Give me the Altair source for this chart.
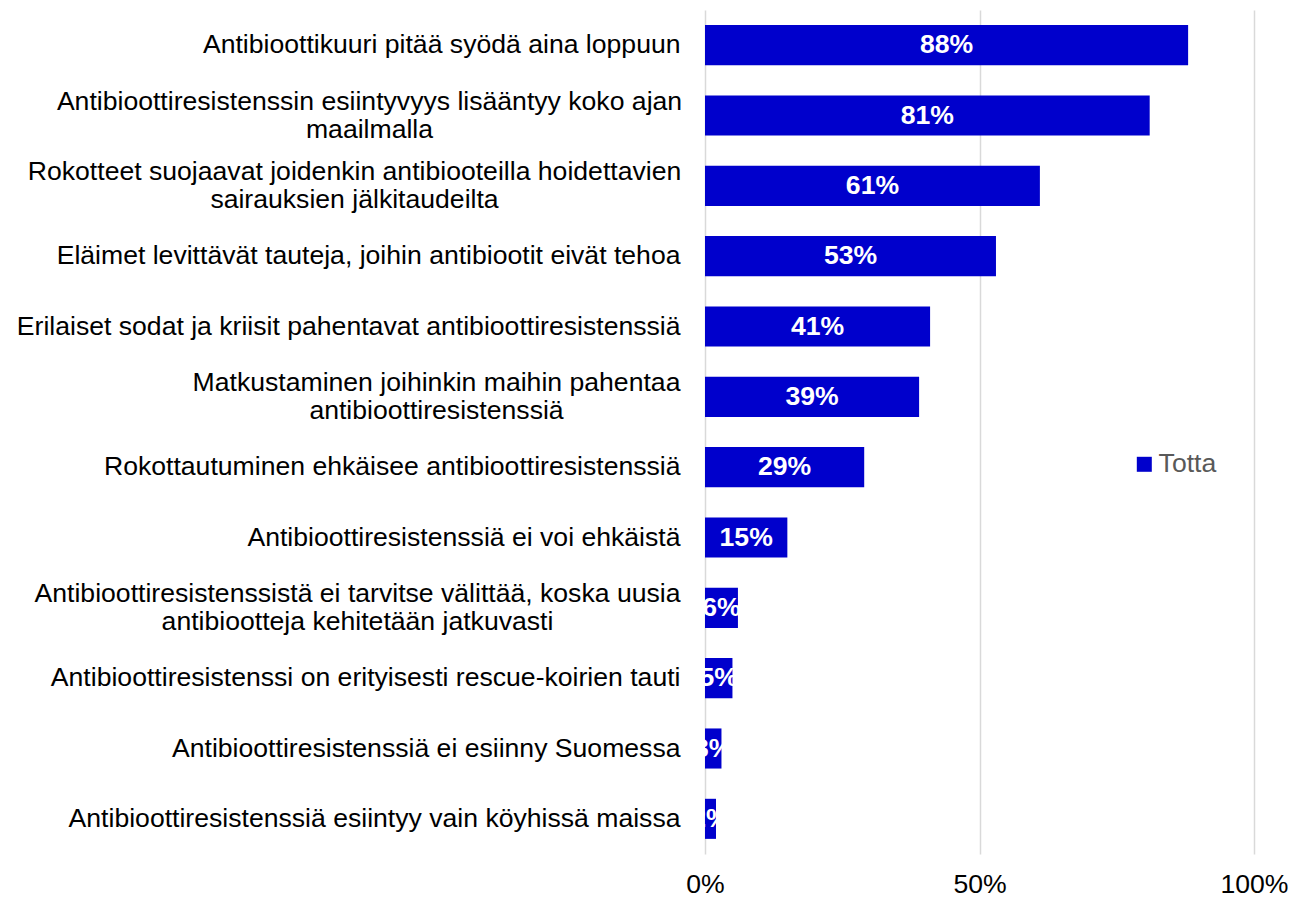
import altair as alt
import pandas as pd

categories = [
    "Antibioottikuuri pitää syödä aina loppuun",
    "Antibioottiresistenssin esiintyvyys lisääntyy koko ajan|maailmalla",
    "Rokotteet suojaavat joidenkin antibiooteilla hoidettavien|sairauksien jälkitaudeilta",
    "Eläimet levittävät tauteja, joihin antibiootit eivät tehoa",
    "Erilaiset sodat ja kriisit pahentavat antibioottiresistenssiä",
    "Matkustaminen joihinkin maihin pahentaa|antibioottiresistenssiä",
    "Rokottautuminen ehkäisee antibioottiresistenssiä",
    "Antibioottiresistenssiä ei voi ehkäistä",
    "Antibioottiresistenssistä ei tarvitse välittää, koska uusia|antibiootteja kehitetään jatkuvasti",
    "Antibioottiresistenssi on erityisesti rescue-koirien tauti",
    "Antibioottiresistenssiä ei esiinny Suomessa",
    "Antibioottiresistenssiä esiintyy vain köyhissä maissa",
]
values = [88, 81, 61, 53, 41, 39, 29, 15, 6, 5, 3, 2]
series = ["Totta"] * len(categories)
x_ticks = [0, 50, 100]

df = pd.DataFrame({"kysymys": categories, "arvo": values, "sarja": series})

FONT = "Liberation Sans"
BLUE = "#0000CC"
FS = 26.6

# per-label padding so wrapped labels are centred as a block (Excel style)
pad_conditions = [
    {"test": f"datum.value == '{categories[1]}'", "value": 336},
    {"test": f"datum.value == '{categories[2]}'", "value": 351},
    {"test": f"datum.value == '{categories[5]}'", "value": 269},
    {"test": f"datum.value == '{categories[8]}'", "value": 348},
]
two_line = "indexof(datum.value, '|') >= 0"

y_enc = alt.Y(
    "kysymys:N",
    sort=categories,
    title=None,
    scale=alt.Scale(paddingInner=0.43, paddingOuter=0.215),
    axis=alt.Axis(
        labelExpr="split(datum.label, '|')",
        labelFont=FONT,
        labelFontSize=FS,
        labelColor="#000000",
        labelLineHeight=28,
        labelLimit=0,
        labelAlign={"condition": {"test": two_line, "value": "center"}, "value": "right"},
        labelOffset={"condition": {"test": two_line, "value": -14}, "value": 0},
        labelPadding={"condition": pad_conditions, "value": 25},
        ticks=False,
        domain=False,
        grid=False,
    ),
)

x_scale = alt.Scale(domain=[0, 100], nice=False)

bars = alt.Chart(df).mark_bar().encode(
    y=y_enc,
    x=alt.X(
        "arvo:Q",
        scale=x_scale,
        title=None,
        axis=alt.Axis(
            values=x_ticks,
            labelExpr="datum.value + '%'",
            labelFont=FONT,
            labelFontSize=FS,
            labelColor="#000000",
            labelPadding=17,
            labelFlush=False,
            ticks=False,
            domain=False,
            grid=True,
            gridColor="#D9D9D9",
            gridWidth=1.5,
        ),
    ),
    color=alt.Color(
        "sarja:N",
        scale=alt.Scale(domain=["Totta"], range=[BLUE]),
        legend=alt.Legend(
            title=None,
            orient="none",
            legendX=426,
            legendY=441,
            symbolType="square",
            symbolSize=225,
            symbolStrokeWidth=0,
            labelFont=FONT,
            labelFontSize=FS,
            labelColor="#595959",
            labelOffset=1,
        ),
    ),
)

labels = alt.Chart(df).transform_calculate(
    keski="datum.arvo / 2", teksti="datum.arvo + '%'"
).mark_text(
    color="white", font=FONT, fontSize=FS, fontWeight="bold", align="center", baseline="middle"
).encode(
    y=alt.Y("kysymys:N", sort=categories),
    x=alt.X("keski:Q", scale=x_scale),
    text="teksti:N",
)

chart = (
    alt.layer(bars, labels)
    .properties(
        width=549,
        height=844,
        autosize=alt.AutoSizeParams(type="none"),
        padding={"left": 697, "top": 2, "right": 34, "bottom": 40},
    )
    .configure(background="white")
    .configure_view(strokeWidth=0)
)

chart.save("out.html", embed_options={"renderer": "svg", "actions": False})
